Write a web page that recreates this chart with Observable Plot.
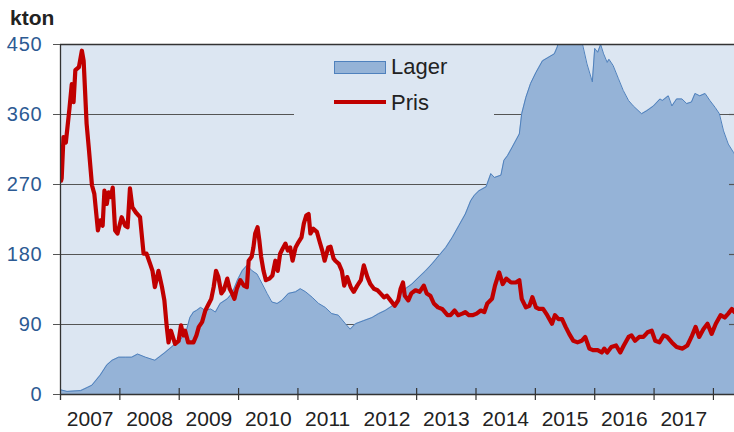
<!DOCTYPE html>
<html><head><meta charset="utf-8">
<script src="https://cdn.jsdelivr.net/npm/d3@7"></script>
<script src="https://cdn.jsdelivr.net/npm/@observablehq/plot@0.6"></script>
<style>
body{margin:0;background:#fff;font-family:"Liberation Sans",Arial,sans-serif;}
#wrap{position:relative;width:734px;height:432px;overflow:hidden;}
#wrap svg{position:absolute;left:0;top:0;}
#wrap svg g[aria-label="y-axis tick label"] text{letter-spacing:0.8px;}
#title{position:absolute;left:10px;top:7px;font-weight:bold;font-size:21px;line-height:21px;color:#222;}
#legend{position:absolute;left:294px;top:50px;width:200px;height:72px;background:#dce6f2;}
#legend .sw{position:absolute;left:40px;top:11px;width:52px;height:13px;background:#95b3d7;border:1px solid #4f81bd;box-sizing:border-box;}
#legend .ln{position:absolute;left:40px;top:50px;width:52px;height:4px;background:#c00000;}
#legend .tx{position:absolute;left:97px;font-size:22px;line-height:22px;color:#222;}
</style></head>
<body>
<div id="wrap">
  <div id="chart"></div>
  <div id="title"></div>
  <div id="legend"></div>
</div>
<script>
const yTicks = [0, 90, 180, 270, 360, 450];
const yearTicks = [2008, 2009, 2010, 2011, 2012, 2013, 2014, 2015, 2016, 2017, 2018];
const yearLabels = ["2007","2008","2009","2010","2011","2012","2013","2014","2015","2016","2017"];
const seriesNames = ["Lager", "Pris"];
const unitLabel = "kton";
const xStart = 2007, xEnd = 2018.355;

// Pris: [decimal year, value]
const prisData = [
[2007.01,275],[2007.02,278],[2007.05,331],[2007.09,324],[2007.15,367],[2007.19,399],[2007.22,376],
[2007.25,417],[2007.31,421],[2007.36,442],[2007.39,429],[2007.44,348],[2007.48,314],[2007.53,269],
[2007.57,258],[2007.63,211],[2007.67,224],[2007.71,217],[2007.74,262],[2007.78,245],[2007.81,260],
[2007.85,254],[2007.88,266],[2007.92,211],[2007.96,207],[2008.03,228],[2008.09,217],[2008.13,215],
[2008.17,265],[2008.21,241],[2008.27,234],[2008.34,228],[2008.40,181],[2008.45,181],[2008.51,168],
[2008.55,159],[2008.59,138],[2008.65,159],[2008.71,138],[2008.75,121],[2008.79,87],[2008.82,67],
[2008.86,82],[2008.93,65],[2008.99,69],[2009.03,89],[2009.07,76],[2009.10,82],[2009.15,67],
[2009.24,67],[2009.29,76],[2009.33,87],[2009.385,93],[2009.44,108],[2009.50,117],[2009.54,123],
[2009.58,138],[2009.62,159],[2009.66,151],[2009.71,130],[2009.75,134],[2009.81,149],[2009.85,136],
[2009.89,130],[2009.93,123],[2009.97,136],[2010.03,147],[2010.09,140],[2010.14,138],[2010.17,172],
[2010.22,177],[2010.25,189],[2010.28,207],[2010.32,215],[2010.35,198],[2010.38,177],[2010.42,159],
[2010.46,147],[2010.52,149],[2010.57,153],[2010.62,172],[2010.66,159],[2010.70,181],[2010.74,187],
[2010.79,194],[2010.83,185],[2010.87,189],[2010.91,172],[2010.96,189],[2011.01,196],[2011.06,202],
[2011.10,220],[2011.14,230],[2011.18,232],[2011.21,207],[2011.26,213],[2011.32,209],[2011.36,198],
[2011.41,185],[2011.45,172],[2011.51,189],[2011.55,190],[2011.60,175],[2011.63,172],[2011.69,168],
[2011.74,159],[2011.78,140],[2011.83,151],[2011.89,138],[2011.94,132],[2012.00,140],[2012.06,147],
[2012.11,166],[2012.17,151],[2012.22,142],[2012.28,136],[2012.34,134],[2012.39,130],[2012.45,125],
[2012.50,127],[2012.56,121],[2012.63,114],[2012.69,121],[2012.73,136],[2012.77,144],[2012.80,127],
[2012.86,121],[2012.91,130],[2012.98,134],[2013.05,132],[2013.12,140],[2013.17,130],[2013.23,127],
[2013.29,117],[2013.36,112],[2013.43,110],[2013.52,102],[2013.57,102],[2013.64,108],[2013.70,102],
[2013.77,104],[2013.82,106],[2013.88,102],[2013.94,102],[2014.01,104],[2014.08,108],[2014.14,106],
[2014.19,117],[2014.27,123],[2014.32,140],[2014.39,157],[2014.45,142],[2014.51,149],[2014.59,144],
[2014.67,144],[2014.73,147],[2014.77,123],[2014.84,112],[2014.90,114],[2014.95,125],[2015.01,112],
[2015.06,110],[2015.13,110],[2015.20,102],[2015.28,91],[2015.33,102],[2015.39,97],[2015.45,97],
[2015.51,87],[2015.57,78],[2015.64,69],[2015.71,67],[2015.78,69],[2015.84,74],[2015.91,59],
[2015.97,57],[2016.05,57],[2016.12,54],[2016.16,59],[2016.21,54],[2016.28,61],[2016.36,63],
[2016.43,54],[2016.49,63],[2016.57,74],[2016.62,76],[2016.68,69],[2016.75,74],[2016.82,74],
[2016.89,80],[2016.96,82],[2017.02,69],[2017.09,67],[2017.16,76],[2017.22,74],[2017.30,67],
[2017.38,61],[2017.48,59],[2017.56,63],[2017.63,74],[2017.70,87],[2017.76,74],[2017.83,84],
[2017.90,91],[2017.97,78],[2018.04,91],[2018.12,102],[2018.19,99],[2018.25,104],[2018.31,110],
[2018.355,106]
];

// Lager: [decimal year, value]
const lagerData = [
[2007.00,6],[2007.11,4],[2007.34,5],[2007.45,9],[2007.53,12],[2007.67,25],[2007.78,38],[2007.87,44],
[2007.98,48],[2008.10,48],[2008.20,48],[2008.30,52],[2008.43,48],[2008.59,44],[2008.76,54],[2008.90,63],
[2009.01,69],[2009.12,82],[2009.18,99],[2009.24,106],[2009.29,108],[2009.36,112],[2009.44,108],
[2009.53,110],[2009.61,106],[2009.69,117],[2009.81,123],[2009.89,130],[2009.98,147],[2010.06,159],
[2010.14,166],[2010.23,159],[2010.31,155],[2010.40,142],[2010.48,130],[2010.56,119],[2010.65,117],
[2010.73,121],[2010.84,130],[2010.96,132],[2011.04,136],[2011.13,132],[2011.24,125],[2011.35,117],
[2011.46,112],[2011.57,104],[2011.68,102],[2011.80,91],[2011.88,84],[2011.97,91],[2012.11,95],
[2012.25,99],[2012.36,104],[2012.47,108],[2012.59,114],[2012.70,125],[2012.81,136],[2012.92,142],
[2013.04,151],[2013.15,159],[2013.26,168],[2013.38,179],[2013.49,189],[2013.60,202],[2013.71,217],
[2013.82,232],[2013.91,249],[2013.97,256],[2014.05,262],[2014.17,267],[2014.25,284],[2014.31,279],
[2014.42,282],[2014.47,301],[2014.53,307],[2014.61,318],[2014.73,335],[2014.77,361],[2014.84,382],
[2014.92,400],[2015.01,414],[2015.12,429],[2015.23,434],[2015.32,438],[2015.37,447],[2015.40,460],
[2015.50,470],[2015.70,465],[2015.79,452],[2015.87,425],[2015.96,402],[2016.00,445],[2016.05,440],
[2016.10,450],[2016.15,438],[2016.21,427],[2016.24,431],[2016.31,423],[2016.40,406],[2016.48,391],
[2016.57,378],[2016.65,371],[2016.79,361],[2016.88,365],[2016.99,371],[2017.10,380],[2017.14,378],
[2017.24,384],[2017.30,371],[2017.38,380],[2017.47,380],[2017.55,374],[2017.63,376],[2017.69,387],
[2017.77,384],[2017.86,387],[2017.94,378],[2018.03,369],[2018.10,361],[2018.17,339],[2018.25,322],
[2018.34,311],[2018.355,309]
];

const X = d => d[0], Y = d => d[1];
const yearMids = yearLabels.map(s => +s + 0.5);

const chart = Plot.plot({
  width: 734, height: 432,
  marginLeft: 60, marginRight: 0, marginTop: 44, marginBottom: 38,
  style: {fontFamily: "'Liberation Sans', Arial, sans-serif", background: "transparent", overflow: "visible"},
  x: {type: "linear", domain: [xStart, xEnd], axis: null},
  y: {domain: [yTicks[0], yTicks[yTicks.length - 1]], axis: null},
  marks: [
    Plot.frame({fill: "#dce6f2", stroke: null}),
    Plot.gridY(yTicks.slice(1, -1), {stroke: "#555", strokeOpacity: 1, strokeWidth: 1.2}),
    Plot.areaY(lagerData, {x: X, y: Y, fill: "#95b3d7", clip: true}),
    Plot.lineY(lagerData, {x: X, y: Y, stroke: "#4f81bd", strokeWidth: 1, clip: true}),
    Plot.lineY(prisData, {x: X, y: Y, stroke: "#c00000", strokeWidth: 4.2, strokeLinejoin: "round", clip: true}),
    Plot.ruleY(yTicks.slice(1, -1), {x1: xEnd, x2: xEnd, insetLeft: -5, stroke: "#555", strokeWidth: 1.2}),
    Plot.ruleY([yTicks[yTicks.length - 1]], {stroke: "#333", strokeWidth: 1.6}),
    Plot.ruleY([yTicks[0]], {stroke: "#333", strokeWidth: 1.3}),
    Plot.ruleX([xStart], {stroke: "#333", strokeWidth: 1.3, insetBottom: -6}),
    Plot.axisY(yTicks, {anchor: "left", tickSize: 7, tickPadding: 11, fontSize: 20, fill: "#2c5a93", stroke: "#555", label: null}),
    Plot.ruleX(yearTicks, {y1: 0, y2: 0, insetTop: -6, insetBottom: -6, stroke: "#333", strokeWidth: 1.2}),
    Plot.axisX(yearMids, {anchor: "bottom", tickSize: 0, tickPadding: 17, fontSize: 21, fill: "#222", tickFormat: d => String(Math.floor(d)), label: null})
  ]
});
document.getElementById("chart").appendChild(chart);
document.getElementById("title").textContent = unitLabel;

const lg = document.getElementById("legend");
lg.innerHTML = `<div class="sw"></div><div class="tx" style="top:6px">${seriesNames[0]}</div>
<div class="ln"></div><div class="tx" style="top:42px">${seriesNames[1]}</div>`;
</script>
</body></html>
